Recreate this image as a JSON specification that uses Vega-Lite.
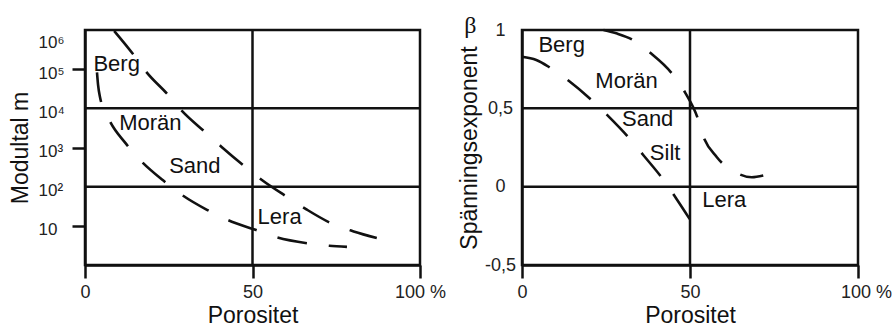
{
  "$schema": "https://vega.github.io/schema/vega-lite/v6.json",
  "padding": {"left": 7, "top": 12, "right": 5, "bottom": 3},
  "bounds": "flush",
  "spacing": 102,
  "config": {
    "font": "Liberation Sans",
    "view": {"stroke": "#111", "strokeWidth": 2.5},
    "axis": {
      "grid": false,
      "domainColor": "#111",
      "domainWidth": 2.5,
      "tickColor": "#111",
      "tickWidth": 2.5,
      "labelColor": "#222",
      "titleColor": "#111",
      "titleFontWeight": "normal",
      "labelFont": "Liberation Sans",
      "titleFont": "Liberation Sans"
    }
  },
  "datasets": {
    "modul": [
      {"curve": "upper", "x": 8.73, "y": 944000},
      {"curve": "upper", "x": 14.4, "y": 240000},
      {"curve": "upper", "x": 18.4, "y": 83000},
      {"curve": "upper", "x": 24.65, "y": 22900},
      {"curve": "upper", "x": 29.0, "y": 8500},
      {"curve": "upper", "x": 35.8, "y": 2500},
      {"curve": "upper", "x": 40.7, "y": 1050},
      {"curve": "upper", "x": 47.5, "y": 339},
      {"curve": "upper", "x": 52.8, "y": 148},
      {"curve": "upper", "x": 60.3, "y": 55},
      {"curve": "upper", "x": 66.1, "y": 26.3},
      {"curve": "upper", "x": 73.9, "y": 11.2},
      {"curve": "upper", "x": 80.2, "y": 7.2},
      {"curve": "upper", "x": 87.1, "y": 4.9},
      {"curve": "lower", "x": 3.58, "y": 83000},
      {"curve": "lower", "x": 3.9, "y": 39800},
      {"curve": "lower", "x": 4.47, "y": 19500},
      {"curve": "lower", "x": 7.15, "y": 5250},
      {"curve": "lower", "x": 12.1, "y": 1290},
      {"curve": "lower", "x": 16.7, "y": 457},
      {"curve": "lower", "x": 23.3, "y": 145},
      {"curve": "lower", "x": 28.9, "y": 62},
      {"curve": "lower", "x": 36.4, "y": 25.7},
      {"curve": "lower", "x": 42.6, "y": 14.1},
      {"curve": "lower", "x": 50.9, "y": 7.9},
      {"curve": "lower", "x": 57.3, "y": 5.1},
      {"curve": "lower", "x": 66.3, "y": 3.6},
      {"curve": "lower", "x": 72.9, "y": 3.1},
      {"curve": "lower", "x": 78.2, "y": 2.9}
    ],
    "modulLabels": [
      {"label": "Berg", "x": 9.45, "y": 138000},
      {"label": "Morän", "x": 19.5, "y": 4170},
      {"label": "Sand", "x": 32.8, "y": 339},
      {"label": "Lera", "x": 58.1, "y": 17}
    ],
    "beta": [
      {"curve": "upper", "x": 24.26, "y": 1.0},
      {"curve": "upper", "x": 28.3, "y": 0.977},
      {"curve": "upper", "x": 32.7, "y": 0.94},
      {"curve": "upper", "x": 38.15, "y": 0.855},
      {"curve": "upper", "x": 44.8, "y": 0.718},
      {"curve": "upper", "x": 48.6, "y": 0.599},
      {"curve": "upper", "x": 52.5, "y": 0.423},
      {"curve": "upper", "x": 53.5, "y": 0.349},
      {"curve": "upper", "x": 58.0, "y": 0.188},
      {"curve": "upper", "x": 63.2, "y": 0.096},
      {"curve": "upper", "x": 68.4, "y": 0.06},
      {"curve": "upper", "x": 71.8, "y": 0.071},
      {"curve": "lower", "x": 0, "y": 0.829},
      {"curve": "lower", "x": 4.25, "y": 0.809},
      {"curve": "lower", "x": 8.4, "y": 0.759},
      {"curve": "lower", "x": 13.9, "y": 0.676},
      {"curve": "lower", "x": 21.0, "y": 0.547},
      {"curve": "lower", "x": 25.75, "y": 0.449},
      {"curve": "lower", "x": 31.9, "y": 0.31},
      {"curve": "lower", "x": 36.2, "y": 0.199},
      {"curve": "lower", "x": 41.9, "y": 0.049},
      {"curve": "lower", "x": 45.8, "y": -0.072},
      {"curve": "lower", "x": 50.55, "y": -0.228}
    ],
    "betaLabels": [
      {"label": "Berg", "x": 11.8, "y": 0.905},
      {"label": "Morän", "x": 31.1, "y": 0.676},
      {"label": "Sand", "x": 37.4, "y": 0.434},
      {"label": "Silt", "x": 42.6, "y": 0.217},
      {"label": "Lera", "x": 60.2, "y": -0.087}
    ]
  },
  "hconcat": [
    {
      "width": 335,
      "height": 235,
      "layer": [
        {
          "data": {"name": "modul"},
          "mark": {"type": "line", "color": "#111", "strokeWidth": 2.6, "strokeDash": [30, 22], "interpolate": "monotone"},
          "encoding": {
            "x": {
              "field": "x", "type": "quantitative",
              "scale": {"domain": [0, 100], "nice": false, "zero": false},
              "axis": {
                "values": [0, 50, 100], "tickSize": 13, "labelPadding": 5, "labelFontSize": 18, "labelFlush": false,
                "labelExpr": "datum.value == 100 ? '100 %' : datum.label",
                "title": "Porositet", "titleFontSize": 23, "titlePadding": 3
              }
            },
            "y": {
              "field": "y", "type": "quantitative",
              "scale": {"type": "log", "domain": [1, 1000000], "nice": false},
              "axis": {
                "values": [10, 100, 1000, 10000, 100000, 1000000],
                "tickSize": 13, "labelPadding": 34, "labelAlign": "left", "labelFontSize": 17,
                "labelFlush": true, "labelOffset": 4,
                "tickOpacity": {"condition": {"test": "datum.value == 10 || datum.value == 1000 || datum.value == 100000", "value": 1}, "value": 0},
                "labelExpr": "datum.value == 10 ? '10' : datum.value == 100 ? '10²' : datum.value == 1000 ? '10³' : datum.value == 10000 ? '10⁴' : datum.value == 100000 ? '10⁵' : '10⁶'",
                "title": "Modultal m", "titleFontSize": 23, "titlePadding": 6
              }
            },
            "detail": {"field": "curve"}
          }
        },
        {
          "data": {"values": [{"y": 100}, {"y": 10000}]},
          "mark": {"type": "rule", "color": "#111", "strokeWidth": 2.5},
          "encoding": {"y": {"field": "y", "type": "quantitative"}}
        },
        {
          "data": {"values": [{"x": 50}]},
          "mark": {"type": "rule", "color": "#111", "strokeWidth": 2.5},
          "encoding": {"x": {"field": "x", "type": "quantitative"}}
        },
        {
          "data": {"name": "modulLabels"},
          "mark": {"type": "text", "fontSize": 22, "color": "#111", "align": "center", "baseline": "middle"},
          "encoding": {
            "x": {"field": "x", "type": "quantitative"},
            "y": {"field": "y", "type": "quantitative"},
            "text": {"field": "label"}
          }
        }
      ]
    },
    {
      "width": 336,
      "height": 235,
      "layer": [
        {
          "data": {"name": "beta"},
          "mark": {"type": "line", "color": "#111", "strokeWidth": 2.6, "strokeDash": [30, 22], "interpolate": "monotone"},
          "encoding": {
            "x": {
              "field": "x", "type": "quantitative",
              "scale": {"domain": [0, 100], "nice": false, "zero": false},
              "axis": {
                "values": [0, 50, 100], "tickSize": 13, "labelPadding": 5, "labelFontSize": 18, "labelFlush": false,
                "labelOffset": {"condition": {"test": "datum.value == 100", "value": 8}, "value": 0},
                "labelExpr": "datum.value == 100 ? '100 %' : datum.label",
                "title": "Porositet", "titleFontSize": 23, "titlePadding": 3
              }
            },
            "y": {
              "field": "y", "type": "quantitative",
              "scale": {"domain": [-0.5, 1], "nice": false, "zero": false},
              "axis": {
                "values": [-0.5, 0, 0.5, 1],
                "tickSize": 0, "ticks": false, "labelPadding": 22, "labelAlign": "center", "labelFontSize": 18,
                "labelExpr": "datum.value == -0.5 ? '-0,5' : datum.value == 0.5 ? '0,5' : datum.value == 0 ? '0' : '1'",
                "title": "Spänningsexponent", "titleFontSize": 23, "titlePadding": 3
              }
            },
            "detail": {"field": "curve"}
          }
        },
        {
          "data": {"values": [{"y": 0}, {"y": 0.5}]},
          "mark": {"type": "rule", "color": "#111", "strokeWidth": 2.5},
          "encoding": {"y": {"field": "y", "type": "quantitative"}}
        },
        {
          "data": {"values": [{"x": 50}]},
          "mark": {"type": "rule", "color": "#111", "strokeWidth": 2.5},
          "encoding": {"x": {"field": "x", "type": "quantitative"}}
        },
        {
          "data": {"name": "betaLabels"},
          "mark": {"type": "text", "fontSize": 22, "color": "#111", "align": "center", "baseline": "middle"},
          "encoding": {
            "x": {"field": "x", "type": "quantitative"},
            "y": {"field": "y", "type": "quantitative"},
            "text": {"field": "label"}
          }
        },
        {
          "data": {"values": [{"label": "β", "x": -15.4, "y": 1.024}]},
          "mark": {"type": "text", "fontSize": 24, "font": "Liberation Serif", "color": "#111", "align": "center", "baseline": "middle"},
          "encoding": {
            "x": {"field": "x", "type": "quantitative"},
            "y": {"field": "y", "type": "quantitative"},
            "text": {"field": "label"}
          }
        }
      ]
    }
  ]
}
